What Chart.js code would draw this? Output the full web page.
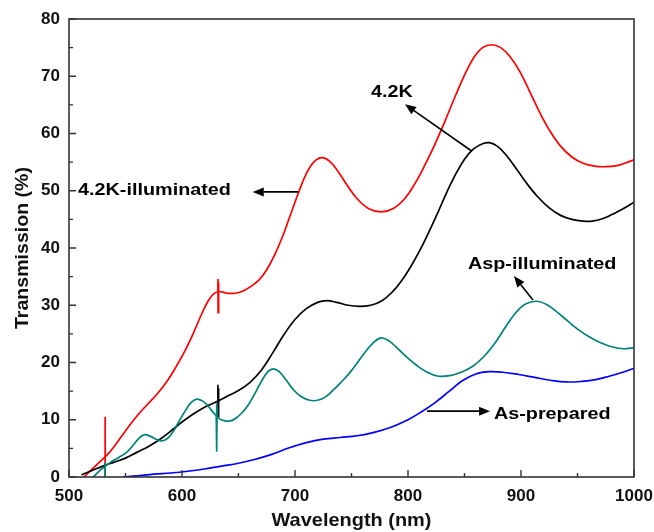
<!DOCTYPE html>
<html><head><meta charset="utf-8">
<script src="https://cdn.jsdelivr.net/npm/chart.js@4/dist/chart.umd.min.js"></script>
<style>html,body{margin:0;padding:0;background:#fff}canvas{display:block}</style>
</head><body>
<canvas id="c" width="654" height="532" style="width:654px;height:532px"></canvas>
<script>
// ---- data (wavelength nm, transmission %) ----
const xTickLabels = [500, 600, 700, 800, 900, 1000];
const yTickLabels = [0, 10, 20, 30, 40, 50, 60, 70, 80];

// 4.2K-illuminated (red)
const illum42X = [513,520,527,534,541,548,555,562,570,578,586,594,602,610,617,623,628,633,640,647,654,661,668,675,682,689,696,703,710,717,724,731,738,746,755,765,776,787,797,806,815,824,833,842,850,858,866,874,882,890,899,908,917,926,935,945,955,965,975,985,993,1000];
const illum42Y = [0,1.3,2.6,3.9,5.6,7.5,9.4,11.1,12.8,14.5,16.5,19.0,21.8,25.1,28.3,30.7,32.0,32.4,32.1,32.1,32.5,33.3,34.4,36.2,38.8,42.0,45.8,49.6,53.0,55.1,55.8,55.1,53.4,51.0,48.6,46.9,46.3,46.9,48.6,51.2,54.5,58.2,62.3,66.6,70.2,73.2,75.0,75.5,75.0,73.5,70.8,67.2,63.5,60.3,57.8,55.9,54.8,54.3,54.2,54.4,54.9,55.4];
const illum42SpikeAX = [532, 532];
const illum42SpikeAY = [0, 10.5];
const illum42SpikeBX = [631.6, 631.8, 632.0, 632.2, 632.4, 632.6];
const illum42SpikeBY = [32.3, 34.6, 28.7, 34.0, 29.5, 32.4];

// 4.2K (black)
const k42X = [511,520,530,540,550,560,570,580,590,600,610,620,630,640,650,660,670,680,690,700,710,720,728,737,747,757,767,777,786,794,802,810,818,826,834,842,850,858,866,872,879,887,896,905,915,925,935,945,955,963,972,981,990,1000];
const k42Y = [0.4,1.1,1.9,2.6,3.3,4.3,5.3,6.5,8.0,9.6,11.0,12.2,13.1,14.1,15.1,16.5,18.6,21.6,24.8,27.5,29.4,30.5,30.8,30.5,30.0,29.8,30.0,30.8,32.3,34.2,36.6,39.4,42.6,46.0,49.6,52.8,55.5,57.3,58.2,58.4,57.8,56.2,53.8,51.3,48.9,47.0,45.7,45.0,44.7,44.7,45.1,45.9,46.8,48.0];
const k42SpikeX = [631.6, 631.8, 632.0, 632.2, 632.4, 632.6];
const k42SpikeY = [13.2, 16.1, 10.6, 15.5, 11.5, 13.4];

// Asp-illuminated (teal)
const aspIllumX = [521.5,526,531,537,544,551,557,562,567,572,577,582,587,592,597,603,608,613,618,623,628,633,638,643,648,653,658,664,670,676,681,686,692,698,705,713,720,727,734,741,748,755,762,769,776,783,790,798,807,817,827,837,847,857,867,877,886,895,904,914,923,932,941,951,961,971,981,991,1000];
const aspIllumY = [0,0.9,1.7,2.6,3.4,4.3,5.6,6.8,7.4,7.1,6.6,6.3,6.7,7.9,9.6,11.6,13.0,13.6,13.3,12.4,11.2,10.2,9.8,9.8,10.3,11.2,12.4,14.4,16.6,18.4,18.9,18.4,17.0,15.4,14.1,13.4,13.4,14.0,15.2,16.6,18.1,19.9,21.8,23.4,24.3,23.8,22.6,21.1,19.6,18.3,17.6,17.7,18.3,19.3,21.0,23.4,26.1,28.6,30.2,30.7,30.1,28.8,27.3,25.7,24.4,23.4,22.7,22.4,22.6];
const aspSpikeAX = [532, 532];
const aspSpikeAY = [0, 2.5];
const aspSpikeBX = [630.3, 630.5, 630.7, 630.9, 631.1, 631.3];
const aspSpikeBY = [10.8, 4.4, 12.9, 5.5, 12.0, 10.3];

// As-prepared (blue)
const asPrepX = [548,560,575,590,605,620,635,650,665,680,695,710,725,740,755,770,785,800,812,824,836,848,860,872,884,898,912,926,940,954,966,978,990,1000];
const asPrepY = [0,0.2,0.5,0.7,1.0,1.4,1.9,2.4,3.1,4.0,5.1,6.0,6.6,6.9,7.2,7.8,8.7,10.0,11.4,13.0,14.9,16.8,18.0,18.4,18.3,17.9,17.4,16.9,16.6,16.7,17.0,17.6,18.3,19.0];

// annotations: [text, textX, textY, arrowFromX, arrowFromY, arrowToX, arrowToY] in data units
const annotations = [
  ['4.2K-illuminated', 508, 50.1, 702.7, 49.8, 662.6, 49.8],
  ['4.2K', 767.3, 67.2, 856.6, 56.9, 797.3, 65.1],
  ['Asp-illuminated', 853, 37.2, 910.6, 30.9, 893.8, 35.1],
  ['As-prepared', 876, 11.0, 816.8, 11.5, 872.6, 11.5]
];

const FONT = 'Arial, "Liberation Sans", sans-serif';
const toPts = (xs, ys) => xs.map((x, i) => ({x: x, y: ys[i]}));

function wideText(ctx, txt, x, y, sx) {
  ctx.save();
  ctx.translate(x, y);
  ctx.scale(sx, 1);
  ctx.fillText(txt, 0, 0);
  ctx.restore();
}

const framePlugin = {
  id: 'frame',
  afterDatasetsDraw(chart) {
    const ctx = chart.ctx, a = chart.chartArea;
    const xs = chart.scales.x, ys = chart.scales.y;
    ctx.save();
    ctx.strokeStyle = '#333';
    ctx.lineWidth = 1.6;
    ctx.strokeRect(a.left, a.top, a.right - a.left, a.bottom - a.top);
    ctx.lineWidth = 1.4;
    ctx.beginPath();
    for (let v = 500; v <= 1000; v += 50) {
      const p = xs.getPixelForValue(v);
      const len = (v % 100 === 0) ? 7 : 4;
      ctx.moveTo(p, a.bottom); ctx.lineTo(p, a.bottom - len);
    }
    for (let v = 0; v <= 80; v += 5) {
      const p = ys.getPixelForValue(v);
      const len = (v % 10 === 0) ? 7 : 4;
      ctx.moveTo(a.left, p); ctx.lineTo(a.left + len, p);
    }
    ctx.stroke();

    // tick labels
    ctx.fillStyle = '#111';
    ctx.font = 'bold 17px ' + FONT;
    ctx.textBaseline = 'middle';
    ctx.textAlign = 'center';
    xTickLabels.forEach(v => ctx.fillText(String(v), xs.getPixelForValue(v), 496));
    ctx.textAlign = 'right';
    yTickLabels.forEach(v => ctx.fillText(String(v), 60, ys.getPixelForValue(v)));

    // axis titles
    ctx.font = 'bold 19px ' + FONT;
    ctx.textAlign = 'center';
    wideText(ctx, 'Wavelength (nm)', (a.left + a.right) / 2, 521, 1.05);
    ctx.save();
    ctx.translate(23, (a.top + a.bottom) / 2);
    ctx.rotate(-Math.PI / 2);
    ctx.scale(1.03, 1);
    ctx.fillText('Transmission (%)', 0, 0);
    ctx.restore();

    // annotations
    ctx.font = 'bold 16.5px ' + FONT;
    ctx.textAlign = 'left';
    ctx.strokeStyle = '#000';
    ctx.fillStyle = '#000';
    annotations.forEach(an => {
      wideText(ctx, an[0], xs.getPixelForValue(an[1]), ys.getPixelForValue(an[2]), 1.2);
      const x1 = xs.getPixelForValue(an[3]), y1 = ys.getPixelForValue(an[4]);
      const x2 = xs.getPixelForValue(an[5]), y2 = ys.getPixelForValue(an[6]);
      const ang = Math.atan2(y2 - y1, x2 - x1);
      const hl = 11, hw = 4.5;
      const bx = x2 - hl * Math.cos(ang), by = y2 - hl * Math.sin(ang);
      ctx.lineWidth = 1.6;
      ctx.beginPath(); ctx.moveTo(x1, y1); ctx.lineTo(bx, by); ctx.stroke();
      ctx.beginPath();
      ctx.moveTo(x2, y2);
      ctx.lineTo(bx + hw * Math.sin(ang), by - hw * Math.cos(ang));
      ctx.lineTo(bx - hw * Math.sin(ang), by + hw * Math.cos(ang));
      ctx.closePath(); ctx.fill();
    });
    ctx.restore();
  }
};

const ds = (label, xs, ys, color, tension) => ({
  label: label, data: toPts(xs, ys), borderColor: color, backgroundColor: color,
  borderWidth: 1.7, pointRadius: 0, fill: false, tension: tension
});

new Chart(document.getElementById('c'), {
  type: 'line',
  data: {
    datasets: [
      ds('As-prepared', asPrepX, asPrepY, '#0000ff', 0.4),
      ds('Asp-illuminated', aspIllumX, aspIllumY, '#00817a', 0.4),
      ds('Asp-illuminated spike 1', aspSpikeAX, aspSpikeAY, '#00817a', 0),
      ds('Asp-illuminated spike 2', aspSpikeBX, aspSpikeBY, '#00817a', 0),
      ds('4.2K', k42X, k42Y, '#000000', 0.4),
      ds('4.2K spike', k42SpikeX, k42SpikeY, '#000000', 0),
      ds('4.2K-illuminated', illum42X, illum42Y, '#ff0000', 0.4),
      ds('4.2K-illuminated spike 1', illum42SpikeAX, illum42SpikeAY, '#ff0000', 0),
      ds('4.2K-illuminated spike 2', illum42SpikeBX, illum42SpikeBY, '#ff0000', 0)
    ]
  },
  options: {
    responsive: false,
    animation: false,
    devicePixelRatio: 1,
    layout: {padding: {top: 19, right: 20, left: 0, bottom: 0}},
    plugins: {legend: {display: false}, tooltip: {enabled: false}},
    scales: {
      x: {
        type: 'linear', min: 500, max: 1000,
        afterFit: s => { s.height = 55; },
        grid: {display: false, drawTicks: false},
        border: {display: false},
        ticks: {display: false}
      },
      y: {
        type: 'linear', min: 0, max: 80,
        afterFit: s => { s.width = 69; },
        grid: {display: false, drawTicks: false},
        border: {display: false},
        ticks: {display: false}
      }
    }
  },
  plugins: [framePlugin]
});
</script>
</body></html>
